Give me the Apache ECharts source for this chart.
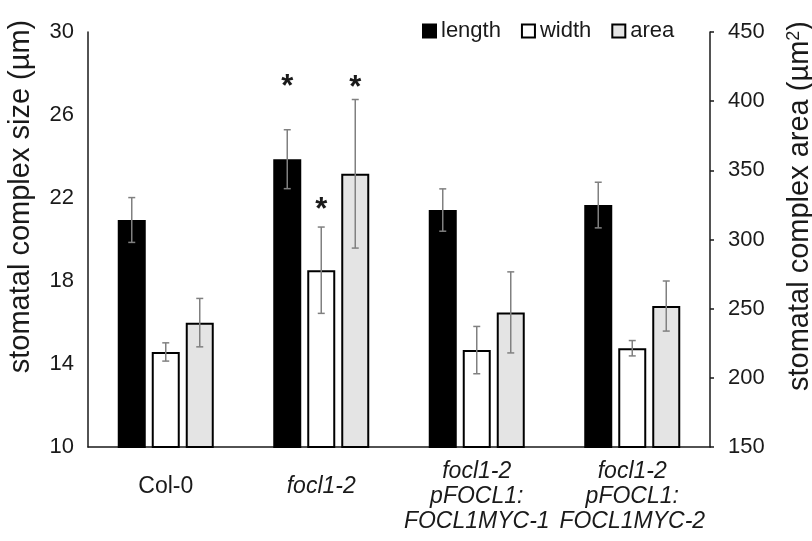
<!DOCTYPE html>
<html><head><meta charset="utf-8">
<script src="https://cdn.jsdelivr.net/npm/echarts@6/dist/echarts.min.js"></script>
<style>html,body{margin:0;padding:0;background:#fff}#c{width:812px;height:541px}</style>
</head><body><div id="c"></div>
<script>
// ---- data ----
const categories = ['Col-0', 'focl1-2', 'focl1-2\npFOCL1:\nFOCL1MYC-1', 'focl1-2\npFOCL1:\nFOCL1MYC-2'];
const seriesNames = ['length', 'width', 'area'];
const lengthValues = [20.94, 23.87, 21.42, 21.66];
const lengthErrors = [1.08, 1.42, 1.02, 1.10];
const widthValues = [14.58, 18.52, 14.67, 14.76];
const widthErrors = [0.44, 2.08, 1.14, 0.37];
const areaValues = [239.9, 347.5, 247.3, 251.9];
const areaErrors = [17.5, 53.7, 29.3, 18.1];
const sizeTicks = [10, 14, 18, 22, 26, 30];
const areaTicks = [150, 200, 250, 300, 350, 400, 450];
// significance asterisks (heights in axis units)
const lengthStars = [null, 27.5, null, null];
const widthStars = [null, 21.6, null, null];
const areaStars = [null, 412, null, null];

// ---- style ----
const FONT = '"Liberation Sans", Arial, sans-serif';
const INK = '#1a1a1a';
const ERR = '#808080';
const BAR_W = 28, BAR_GAP = 6, CAP = 3.5;

function errSeries(name, vals, errs, k, yIdx) {
  return {
    type: 'custom', name: name + ' err', yAxisIndex: yIdx, z: 10, silent: true,
    dimensions: ['x', 'y', 'e'], encode: { x: 0, y: 1 },
    data: vals.map((v, i) => [i, v, errs[i]]),
    renderItem: function (params, api) {
      const i = api.value(0), v = api.value(1), e = api.value(2);
      const hi = api.coord([i, v + e]), lo = api.coord([i, v - e]);
      const x = hi[0] + k * (BAR_W + BAR_GAP);
      const st = { stroke: ERR, lineWidth: 1.5 };
      return { type: 'group', children: [
        { type: 'line', shape: { x1: x, y1: hi[1], x2: x, y2: lo[1] }, style: st },
        { type: 'line', shape: { x1: x - CAP, y1: hi[1], x2: x + CAP, y2: hi[1] }, style: st },
        { type: 'line', shape: { x1: x - CAP, y1: lo[1], x2: x + CAP, y2: lo[1] }, style: st }
      ]};
    }
  };
}
function starSeries(name, stars, k, yIdx) {
  return {
    type: 'custom', name: name + ' sig', yAxisIndex: yIdx, z: 11, silent: true,
    dimensions: ['x', 'y'], encode: { x: 0, y: 1 },
    data: stars.map((v, i) => v == null ? null : [i, v]).filter(d => d),
    renderItem: function (params, api) {
      const p = api.coord([api.value(0), api.value(1)]);
      return { type: 'text', x: p[0] + k * (BAR_W + BAR_GAP), y: p[1] + 4,
        style: { text: '*', fontSize: 31, fontWeight: 'bold', fontFamily: FONT, fill: INK, align: 'center', verticalAlign: 'middle' } };
    }
  };
}

const chart = echarts.init(document.getElementById('c'), null, { renderer: 'canvas' });
chart.setOption({
  animation: false,
  backgroundColor: '#fff',
  grid: { left: 88, right: 102, top: 32, bottom: 94, containLabel: false, outerBoundsMode: 'none' },
  legend: {
    data: seriesNames, left: 422, top: 20, padding: 0, itemWidth: 13, itemHeight: 13, itemGap: 20,
    icon: 'rect', textStyle: { fontSize: 22, color: INK, fontFamily: FONT }
  },
  xAxis: {
    type: 'category',
    data: categories.map((c, i) => ({
      value: c,
      textStyle: i === 0 ? { padding: [15, 0, 0, 0] } :
        (i === 1 ? { fontStyle: 'italic', padding: [15, 0, 0, 0] } : { fontStyle: 'italic' })
    })),
    axisLine: { show: true, lineStyle: { color: INK, width: 1.5 } },
    axisTick: { show: false },
    axisLabel: { interval: 0, fontSize: 23, lineHeight: 25, margin: 12, color: INK, fontFamily: FONT },
    splitLine: { show: false }
  },
  yAxis: [
    {
      type: 'value', position: 'left', min: sizeTicks[0], max: sizeTicks[sizeTicks.length - 1],
      name: 'stomatal complex size (µm)', nameLocation: 'middle', nameRotate: 90, nameGap: 53,
      nameTextStyle: { fontSize: 29, color: INK, fontFamily: FONT, padding: [0, 0, 0, 86] },
      axisLine: { show: true, lineStyle: { color: INK, width: 1.5 } },
      axisTick: { show: false },
      axisLabel: { customValues: sizeTicks, fontSize: 22, color: INK, fontFamily: FONT, margin: 14 },
      splitLine: { show: false }
    },
    {
      type: 'value', position: 'right', min: areaTicks[0], max: areaTicks[areaTicks.length - 1],
      interval: areaTicks[1] - areaTicks[0],
      name: 'stomatal complex area (µm{sup|2})', nameLocation: 'middle', nameRotate: 90, nameGap: 75,
      nameTextStyle: { fontSize: 29, color: INK, fontFamily: FONT, padding: [0, 0, 0, 67],
        rich: { sup: { fontSize: 18, color: INK, fontFamily: FONT, padding: [0, 0, 12, 0] } } },
      axisLine: { show: true, lineStyle: { color: INK, width: 1.5 } },
      axisTick: { show: true, inside: false, length: 4, lineStyle: { color: INK, width: 1.5 } },
      axisLabel: { fontSize: 22, color: INK, fontFamily: FONT, margin: 18 },
      splitLine: { show: false }
    }
  ],
  series: [
    { type: 'bar', name: 'length', yAxisIndex: 0, data: lengthValues, barWidth: BAR_W, barGap: (BAR_GAP / BAR_W * 100) + '%',
      itemStyle: { color: '#000', borderColor: '#000', borderWidth: 2 } },
    { type: 'bar', name: 'width', yAxisIndex: 0, data: widthValues, barWidth: BAR_W,
      itemStyle: { color: '#fff', borderColor: '#000', borderWidth: 2 } },
    { type: 'bar', name: 'area', yAxisIndex: 1, data: areaValues, barWidth: BAR_W,
      itemStyle: { color: '#e4e4e4', borderColor: '#000', borderWidth: 2 } },
    errSeries('length', lengthValues, lengthErrors, -1, 0),
    errSeries('width', widthValues, widthErrors, 0, 0),
    errSeries('area', areaValues, areaErrors, 1, 1),
    starSeries('length', lengthStars, -1, 0),
    starSeries('width', widthStars, 0, 0),
    starSeries('area', areaStars, 1, 1)
  ]
});
</script></body></html>
